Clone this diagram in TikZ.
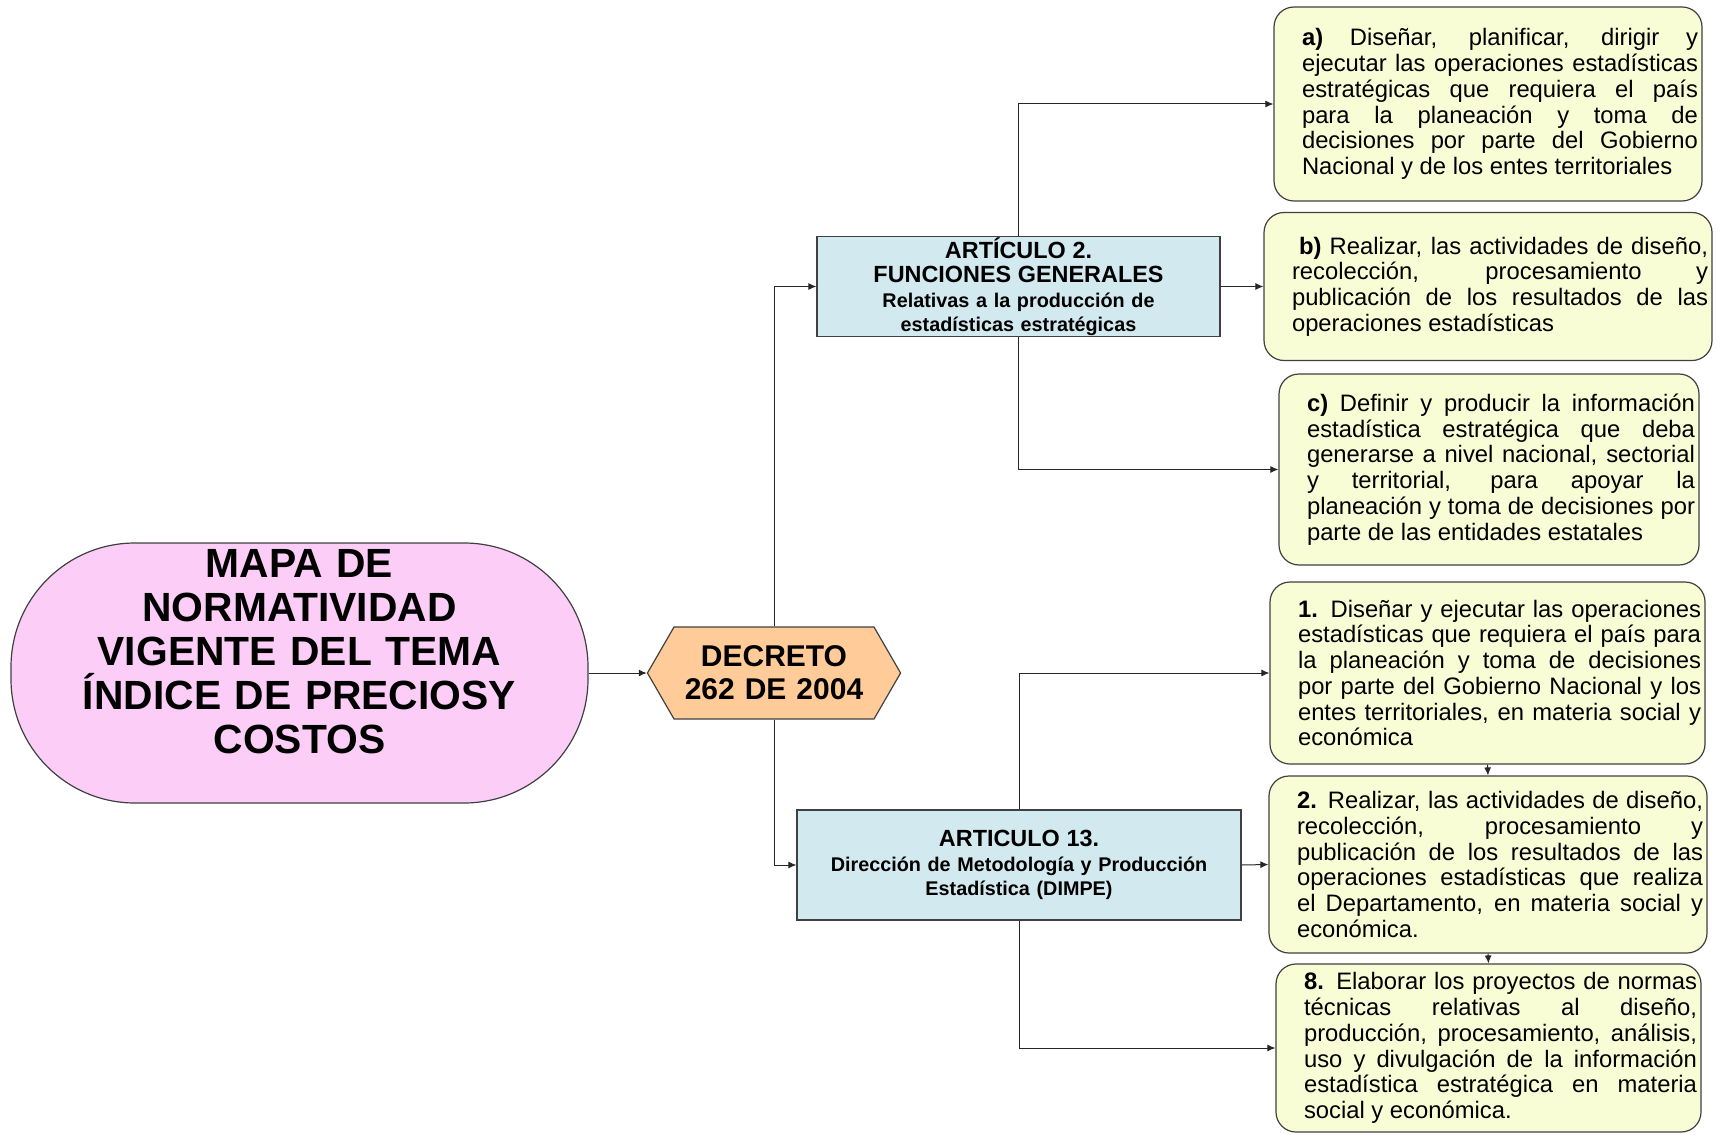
\documentclass[tikz,border=0pt]{standalone}
\usepackage{fontspec}
\setmainfont{Liberation Sans}
\usepackage{xcolor}
\usetikzlibrary{shapes.symbols,arrows.meta}
\definecolor{rosamapa}{RGB}{252,206,247}
\definecolor{durazno}{RGB}{255,204,153}
\definecolor{azulclaro}{RGB}{211,233,240}
\definecolor{amarilloclaro}{RGB}{249,253,213}
\definecolor{grisborde}{RGB}{64,64,64}

\tikzset{
	articulo/.style={rectangle,
		fill=azulclaro,
		draw=grisborde,
		line width=0.6pt,
		inner sep=0pt,
		align=center},
	funcion/.style={rectangle,
		rounded corners=10pt,
		fill=amarilloclaro,
		draw=grisborde,
		line width=0.6pt,
		inner xsep=2pt,
		inner ysep=0pt,
		align=justify,
		font=\fontsize{11.9}{12.85}\selectfont,
		execute at begin node={\leftskip=12pt\relax}},
	flecha/.style={draw=black!85,
		line width=0.5pt,
		-{Latex[length=4pt,width=3.5pt]}}
}

\begin{document}
\begin{tikzpicture}[x=0.5pt,y=-0.5pt]
	\useasboundingbox (0,0) rectangle (1722,1134);

	% titulo
	\node[rectangle,
	rounded corners=62pt,
	fill=rosamapa,
	draw=grisborde,
	line width=0.6pt,
	minimum width=288.5pt,
	minimum height=130pt,
	inner sep=0pt,
	text width=284pt,
	align=center,
	font=\fontsize{20.4}{22}\selectfont\bfseries] (mapa) at (299.5,673) {
		MAPA DE\\NORMATIVIDAD\\VIGENTE DEL TEMA\\ÍNDICE DE PRECIOSY\\COSTOS\\\mbox{}
	};

	% decreto
	\node[signal,
	signal to=west and east,
	signal pointer angle=120,
	fill=durazno,
	draw=grisborde,
	line width=0.6pt,
	minimum width=113pt,
	minimum height=46pt,
	inner sep=0pt,
	text width=100pt,
	align=center,
	font=\fontsize{15}{16.5}\selectfont\bfseries] (decreto) at (774,673) {
		DECRETO\\262 DE 2004
	};

	% articulos
	\node[articulo, minimum width=201.5pt, minimum height=50pt, text width=195pt,
	font=\bfseries] (art2) at (1018.5,286.5) {
		{\fontsize{11.7}{12.3}\selectfont ARTÍCULO 2.\\FUNCIONES GENERALES}\\
		{\fontsize{9.9}{12.3}\selectfont Relativas a la producción de\\estadísticas estratégicas}
	};
	\node[articulo, minimum width=222pt, minimum height=55pt, text width=218pt,
	font=\bfseries] (art13) at (1019,865) {
		{\fontsize{11.7}{12.3}\selectfont ARTICULO 13.}\\
		{\fontsize{9.9}{12.3}\selectfont Dirección de Metodología y Producción\\Estadística (DIMPE)}
	};

	% funciones articulo 2
	\node[funcion, text width=210pt, minimum height=97pt] (fa) at (1488,104) {
		\textbf{a)} Diseñar, planificar, dirigir y\linebreak
		ejecutar las operaciones estadísticas\linebreak
		estratégicas que requiera el país\linebreak
		para la planeación y toma de\linebreak
		decisiones por parte del Gobierno\linebreak
		Nacional y de los entes territoriales
	};
	\node[funcion, text width=220pt, minimum height=74pt] (fb) at (1488,286.5) {
		\hspace*{3.5pt}\textbf{b)} Realizar, las actividades de diseño,\linebreak
		recolección, procesamiento y\linebreak
		publicación de los resultados de las\linebreak
		operaciones estadísticas
	};
	\node[funcion, text width=206pt, minimum height=95.5pt] (fc) at (1489,469.5) {
		\textbf{c)} Definir y producir la información\linebreak
		estadística estratégica que deba\linebreak
		generarse a nivel nacional, sectorial\linebreak
		y territorial, para apoyar la\linebreak
		planeación y toma de decisiones por\linebreak
		parte de las entidades estatales
	};

	% funciones articulo 13
	\node[funcion, text width=213.5pt, minimum height=91pt] (f1) at (1487.5,673) {
		\textbf{1.} Diseñar y ejecutar las operaciones\linebreak
		estadísticas que requiera el país para\linebreak
		la planeación y toma de decisiones\linebreak
		por parte del Gobierno Nacional y los\linebreak
		entes territoriales, en materia social y\linebreak
		económica
	};
	\node[funcion, text width=215pt, minimum height=88.5pt] (f2) at (1488,864.5) {
		\textbf{2.} Realizar, las actividades de diseño,\linebreak
		recolección, procesamiento y\linebreak
		publicación de los resultados de las\linebreak
		operaciones estadísticas que realiza\linebreak
		el Departamento, en materia social y\linebreak
		económica.
	};
	\node[funcion, text width=208.5pt, minimum height=84pt] (f8) at (1488.5,1048) {
		\textbf{8.} Elaborar los proyectos de normas\linebreak
		técnicas relativas al diseño,\linebreak
		producción, procesamiento, análisis,\linebreak
		uso y divulgación de la información\linebreak
		estadística estratégica en materia\linebreak
		social y económica.
	};

	% conectores
	\draw[flecha] (mapa.east) -- (decreto.west);
	\draw[flecha] (decreto.north) |- (art2.west);
	\draw[flecha] (decreto.south) |- (art13.west);
	\draw[flecha] (art2.north) |- (fa.west);
	\draw[flecha] (art2.east) -- (fb.west);
	\draw[flecha] (art2.south) |- (fc.west);
	\draw[flecha] (art13.north) |- (f1.west);
	\draw[flecha] (art13.east) -- (f2.west);
	\draw[flecha] (art13.south) |- (f8.west);
	\draw[flecha] (f1.south) -- (f2.north);
	\draw[flecha] (f2.south) -- (f8.north);
\end{tikzpicture}
\end{document}
